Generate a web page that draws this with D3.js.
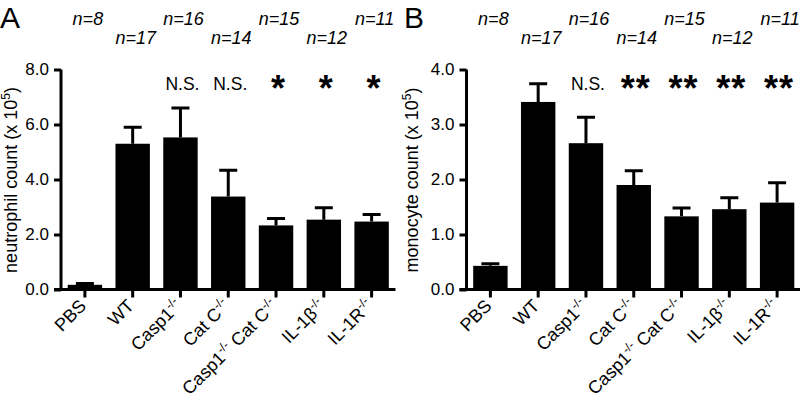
<!DOCTYPE html>
<html><head><meta charset="utf-8">
<script src="https://cdn.jsdelivr.net/npm/d3@7"></script>
<style>
html,body{margin:0;padding:0;background:#fff;}
svg{display:block;font-family:"Liberation Sans",Arial,Helvetica,sans-serif;}
</style></head>
<body>
<svg id="chart" width="800" height="401"></svg>
<script>
const categories = ["PBS","WT","Casp1","Cat C","Casp1 Cat C","IL-1β","IL-1R"];
const nLabels = ["n=8","n=17","n=16","n=14","n=15","n=12","n=11"];
const neutrophilMean = [0.17,5.30,5.53,3.38,2.33,2.54,2.47];
const neutrophilErr  = [0.05,0.60,1.07,0.96,0.25,0.43,0.26];
const neutrophilSig  = ["","","N.S.","N.S.","*","*","*"];
const monocyteMean = [0.43,3.41,2.66,1.90,1.33,1.46,1.58];
const monocyteErr  = [0.04,0.33,0.47,0.26,0.15,0.21,0.36];
const monocyteSig  = ["","","N.S.","**","**","**","**"];
const neutrophilTicks = [0,2,4,6,8];
const monocyteTicks = [0,1,2,3,4];

const svg = d3.select("#chart");

function drawLabel(t, cat) {
  const sup = (txt) => t.append("tspan").attr("baseline-shift","super").attr("font-size","12px").text(txt);
  const nor = (txt) => t.append("tspan").text(txt);
  if (cat === "PBS" || cat === "WT") { nor(cat); }
  else if (cat === "Casp1 Cat C") { nor("Casp1"); sup("-/-"); nor(" Cat C"); sup("-/-"); }
  else { nor(cat); sup("-/-"); }
}

function panel(opts) {
  const g = svg.append("g");
  const y = d3.scaleLinear().domain([0, opts.max]).range([289.5, 69.5]);
  const x = d3.scaleBand().domain(categories).range([opts.x0, opts.x1]).paddingInner(0.28).paddingOuter(0.14);
  const bw = x.bandwidth();
  const cx = c => x(c) + bw/2;

  g.append("text").attr("x", opts.letterX).attr("y", 28).attr("font-size","30px").text(opts.letter);

  g.selectAll(".n").data(categories).join("text")
    .attr("x", (c) => cx(c) + 3)
    .attr("y", (c,i) => i % 2 === 0 ? 25 : 44)
    .attr("text-anchor","middle").attr("font-size","18px").attr("font-style","italic")
    .text((c,i) => nLabels[i]);

  g.selectAll(".bar").data(categories).join("rect")
    .attr("x", c => x(c)).attr("width", bw)
    .attr("y", (c,i) => y(opts.mean[i]))
    .attr("height", (c,i) => y(0) - y(opts.mean[i]))
    .attr("fill","#000");

  g.selectAll(".eb").data(categories).join("path")
    .attr("d", (c,i) => {
      const yt = y(opts.mean[i] + opts.err[i]), yb = y(opts.mean[i]);
      return `M${cx(c)},${yb}V${yt}M${cx(c)-9},${yt}H${cx(c)+9}`;
    })
    .attr("stroke","#000").attr("stroke-width",3).attr("fill","none");

  g.selectAll(".sig").data(categories).join("text")
    .attr("x", c => cx(c) + 2)
    .attr("y", (c,i) => opts.sig[i] === "N.S." ? 90 : 101)
    .attr("text-anchor","middle")
    .attr("font-size", (c,i) => opts.sig[i] === "N.S." ? "17.5px" : "36px")
    .attr("font-weight", (c,i) => opts.sig[i] === "N.S." ? "normal" : "bold")
    .attr("letter-spacing", (c,i) => opts.sig[i] === "**" ? "1px" : "0px")
    .text((c,i) => opts.sig[i]);

  const yAxis = d3.axisLeft(y).tickValues(opts.ticks).tickFormat(d3.format(".1f")).tickSize(7).tickPadding(5);
  const ya = g.append("g").attr("transform", `translate(${opts.x0},0)`).call(yAxis);
  ya.select(".domain").attr("d", `M0,${y(opts.max)}V${y(0)}`).attr("stroke-width",3);
  ya.selectAll(".tick line").attr("stroke-width",3);
  ya.selectAll(".tick text").attr("font-size","17px").attr("fill","#000").attr("font-family","Liberation Sans, Arial, sans-serif");

  const xAxis = d3.axisBottom(x).tickSize(8).tickFormat("");
  const xa = g.append("g").attr("transform", `translate(0,${y(0)})`).call(xAxis);
  xa.select(".domain").attr("d", `M${opts.x0-7},0H${opts.x1}`).attr("stroke-width",3);
  xa.selectAll(".tick line").attr("stroke-width",3);

  g.selectAll(".xl").data(categories).join("text")
    .attr("transform", c => `translate(${cx(c)-2},${y(0)+13}) rotate(-45)`)
    .attr("text-anchor","end").attr("font-size","18px").attr("dy","0.35em")
    .each(function(c){ drawLabel(d3.select(this), c); });

  const yl = g.append("text")
    .attr("transform", `translate(${opts.labelX},${opts.labelY}) rotate(-90)`)
    .attr("text-anchor","middle").attr("font-size","18px");
  yl.append("tspan").text(opts.yLabel + " (x 10");
  yl.append("tspan").attr("baseline-shift","super").attr("font-size","12px").text("5");
  yl.append("tspan").text(")");
}

panel({letter:"A", letterX:0, x0:61, x1:395.5, max:8, ticks:neutrophilTicks,
       mean:neutrophilMean, err:neutrophilErr, sig:neutrophilSig,
       yLabel:"neutrophil count", labelX:17, labelY:180});
panel({letter:"B", letterX:404, x0:466.5, x1:801, max:4, ticks:monocyteTicks,
       mean:monocyteMean, err:monocyteErr, sig:monocyteSig,
       yLabel:"monocyte count", labelX:418, labelY:180});
</script>
</body></html>
